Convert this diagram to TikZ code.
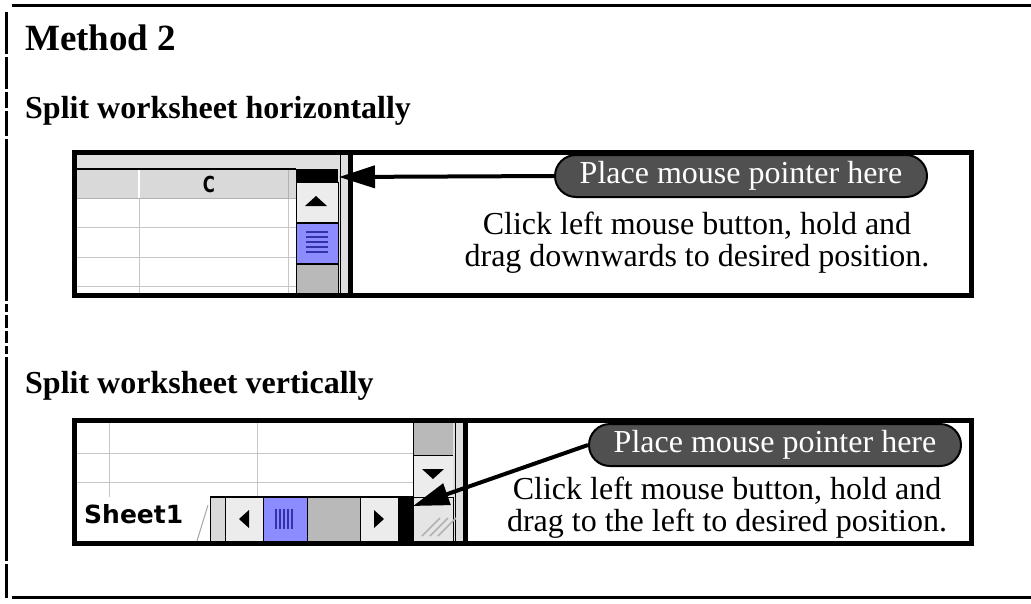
\documentclass[tikz,border=0pt]{standalone}
\usepackage{fontspec}
\setmainfont{Liberation Serif}
\setsansfont{DejaVu Sans}
\usepackage{tikz}
\usetikzlibrary{arrows.meta}

\definecolor{barblue}{RGB}{140,140,255}
\definecolor{darkblue}{RGB}{50,50,170}
\definecolor{callgray}{RGB}{80,80,80}

\tikzset{
    callout/.style={draw, line width=2pt, fill=callgray, text=white, rounded corners=21pt,
        minimum width=372pt, minimum height=42pt, inner sep=0pt,
        font=\fontsize{32}{32}\selectfont},
    note/.style={align=center, inner sep=0pt, font=\fontsize{32}{32}\selectfont},
    heading/.style={anchor=base west, inner sep=0pt, font=\fontsize{32}{32}\selectfont\bfseries},
    pointer/.style={line width=4pt, -{Triangle[length=36pt,width=22pt]}},
    panel/.style={line width=5pt},
    cellline/.style={gray!45, line width=0.8pt},
    btn/.style={fill=gray!15, draw=black, line width=0.8pt},
    bartrack/.style={fill=gray!55, draw=black, line width=0.8pt},
}

\begin{document}
\begin{tikzpicture}[x=1pt, y=-1pt]
    \useasboundingbox (0,0) rectangle (1031,603);

    % Marco exterior
    \draw[line width=3pt] (12,5) -- (1031,5);
    \draw[line width=3pt] (12,597) -- (1031,597);
    \foreach \a/\b in {12/54, 57/89, 92/108, 111/136, 139/301, 304/312, 315/328, 331/343, 346/354, 357/561, 564/598}
        \draw[line width=3pt] (6,\a) -- (6,\b);

    % Titulos
    \node[heading, font=\fontsize{37}{37}\selectfont\bfseries] (title) at (25,50) {Method 2};
    \node[heading] (head1) at (25,118) {Split worksheet horizontally};
    \node[heading] (head2) at (25,393) {Split worksheet vertically};

    % Captura 1
    \fill[gray!25] (76,154) rectangle (349,293);
    \fill[gray!30] (76,170) rectangle (296,198);
    \fill[white] (76,199) rectangle (296,293);
    \draw[line width=1.5pt] (76,169) -- (296,169);
    \draw[gray!60] (76,198) -- (296,198);
    \foreach \y in {227,257,286}
        \draw[cellline] (76,\y) -- (296,\y);
    \foreach \x in {139,288}
        \draw[cellline] (\x,199) -- (\x,293);
    \draw[white, line width=1.5pt] (139,170) -- (139,198);
    \draw[gray!60] (288,170) -- (288,198);
    \node[font=\sffamily\bfseries\fontsize{22}{22}\selectfont, inner sep=0pt, xscale=0.75] (colC) at (209,184) {C};
    \fill[black] (296,169) rectangle (338,182);
    \draw[btn] (296,182) rectangle (338,222);
    \fill[black] (305,206) -- (327,206) -- (316,196) -- cycle;
    \draw[fill=barblue, draw=black, line width=0.8pt] (296,223) rectangle (338,263);
    \foreach \y in {232,237,242,247,252}
        \draw[darkblue, line width=1.5pt] (306,\y) -- (328,\y);
    \draw[bartrack] (296,264) rectangle (338,295);
    \draw[line width=0.8pt] (340,154) -- (340,293);

    % Panel 1
    \draw[panel] (74,152) rectangle (971,295);
    \draw[panel] (350,152) -- (350,295);

    % Captura 2
    \begin{scope}
        \clip (76,423) rectangle (463,541);
        \fill[white] (76,423) rectangle (463,541);
        \foreach \y in {453,482}
            \draw[cellline] (76,\y) -- (413,\y);
        \foreach \x in {109,257}
            \draw[cellline] (\x,423) -- (\x,497);
        \draw[bartrack] (413,421) rectangle (453,455);
        \draw[btn] (413,455) rectangle (453,497);
        \fill[black] (422,469) -- (444,469) -- (433,479) -- cycle;
        \fill[gray!25] (453,423) rectangle (463,541);
        \draw[line width=0.8pt] (455,423) -- (455,541);
        \node[font=\sffamily\bfseries\fontsize{25}{25}\selectfont, anchor=base west, inner sep=0pt] (tab) at (84,523) {Sheet1};
        \draw[gray!70, line width=1pt] (197,541) -- (208,505);
        \fill[gray!30] (210,497) rectangle (225,543);
        \draw[line width=1pt] (210,497) -- (210,543);
        \draw[btn] (225,497) rectangle (263,543);
        \fill[black] (249,510) -- (249,528) -- (239,519) -- cycle;
        \draw[fill=barblue, draw=black, line width=0.8pt] (263,497) rectangle (307,543);
        \foreach \x in {276,280,284,288,292}
            \draw[darkblue, line width=1.2pt] (\x,509) -- (\x,529);
        \draw[bartrack] (307,497) rectangle (360,543);
        \draw[btn] (360,497) rectangle (398,543);
        \fill[black] (374,510) -- (374,528) -- (384,519) -- cycle;
        \fill[black] (398,497) rectangle (413,543);
        \draw[btn, fill=gray!20] (413,497) rectangle (453,543);
        \foreach \d in {0,8,16}
            \draw[gray!60, line width=1.5pt] (422+\d,536) -- (440+\d,518);
        \draw[line width=1.5pt] (210,497) -- (413,497);
    \end{scope}

    % Panel 2
    \draw[panel] (74,420) rectangle (971,543);
    \draw[panel] (465,420) -- (465,543);

    % Indicaciones
    \node[callout] (call1) at (741,176) {Place mouse pointer here};
    \node[note] (txt1) at (697,243) {Click left mouse button, hold and\\drag downwards to desired position.};
    \node[callout] (call2) at (775,445) {Place mouse pointer here};
    \node[note] (txt2) at (727,508) {Click left mouse button, hold and\\drag to the left to desired position.};

    % Flechas
    \coordinate (tip1) at (339,177);
    \coordinate (tip2) at (413,506);
    \draw[pointer] (call1.west) -- (tip1);
    \draw[pointer] (call2.west) -- (tip2);
\end{tikzpicture}
\end{document}
